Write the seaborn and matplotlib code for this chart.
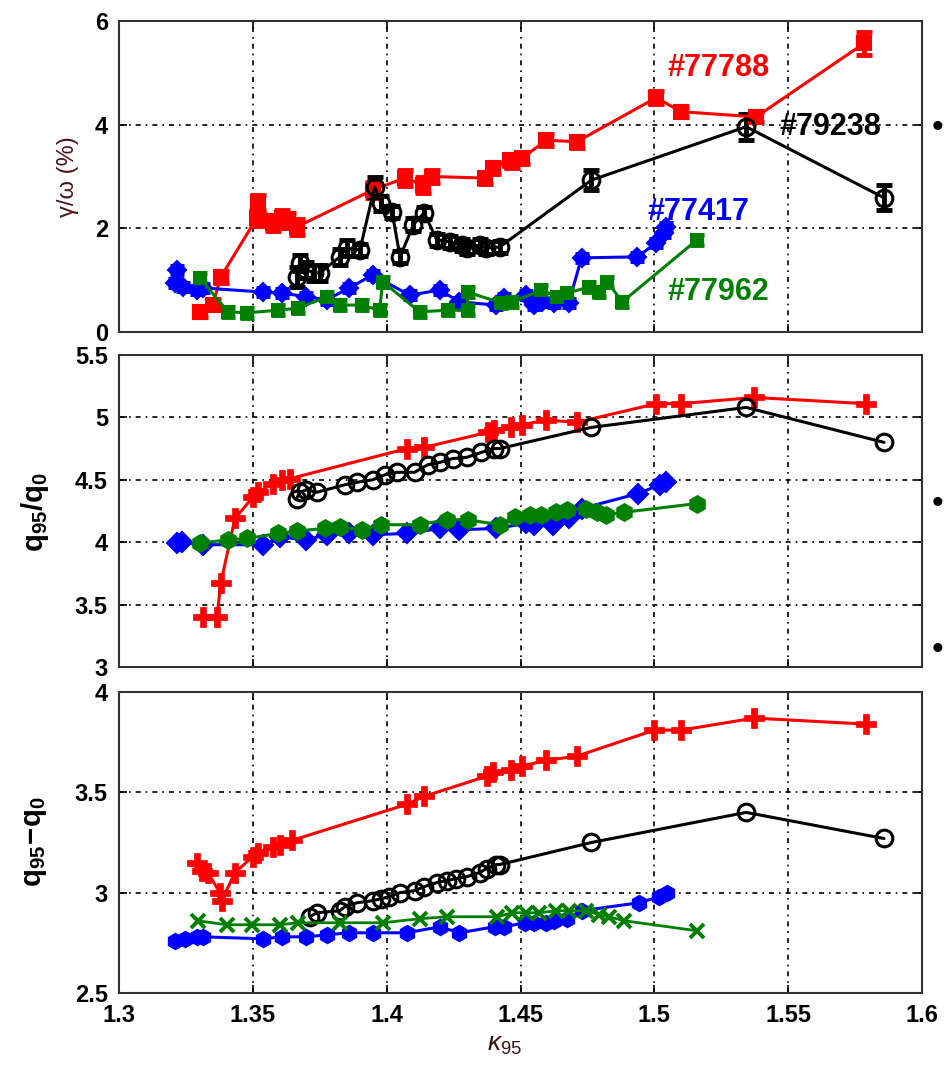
import numpy as np
import pandas as pd
import matplotlib
matplotlib.use("Agg")
import matplotlib.pyplot as plt
import seaborn as sns

# ---------------- data ----------------
shots = ["#77788", "#79238", "#77417", "#77962"]
colors = ["#ff0000", "#000000", "#0000ff", "#008000"]

# panel 1: gamma/omega (%)
red_k1 = [1.3302, 1.335, 1.338, 1.3515, 1.352, 1.3575, 1.361, 1.363, 1.3665, 1.3948, 1.4067, 1.4134,
          1.4168, 1.4366, 1.4396, 1.4459, 1.447, 1.4507, 1.4597, 1.471, 1.5007, 1.510, 1.538, 1.5784]
red_g1 = [0.39, 0.52, 1.06, 2.2, 2.5, 2.1, 2.2, 2.15, 2.03, 2.74, 2.97, 2.84,
          3.0, 2.97, 3.16, 3.32, 3.28, 3.36, 3.7, 3.67, 4.52, 4.25, 4.15, 5.57]
red_e1 = [0.1, 0.1, 0.12, 0.15, 0.15, 0.15, 0.15, 0.15, 0.15, 0.15, 0.15, 0.15,
          0.12, 0.12, 0.12, 0.12, 0.12, 0.12, 0.12, 0.12, 0.12, 0.1, 0.1, 0.22]

black_k1 = [1.3664, 1.3675, 1.370, 1.373, 1.375, 1.3825, 1.385, 1.390, 1.3955, 1.398, 1.402, 1.405,
            1.410, 1.414, 1.4187, 1.4235, 1.428, 1.430, 1.4347, 1.437, 1.4422, 1.4765, 1.5343, 1.5858]
black_g1 = [1.06, 1.33, 1.2, 1.14, 1.14, 1.45, 1.62, 1.58, 2.8, 2.48, 2.32, 1.45,
            2.07, 2.3, 1.78, 1.74, 1.68, 1.62, 1.68, 1.62, 1.64, 2.93, 3.96, 2.59]
black_e1 = [0.2, 0.15, 0.15, 0.15, 0.15, 0.15, 0.15, 0.12, 0.2, 0.15, 0.12, 0.12,
            0.12, 0.12, 0.12, 0.12, 0.12, 0.12, 0.12, 0.12, 0.12, 0.2, 0.25, 0.24]

blue_k1 = [1.3216, 1.321, 1.324, 1.329, 1.3315, 1.3537, 1.361, 1.370, 1.3776, 1.386, 1.3948, 1.4086,
           1.4198, 1.4272, 1.441, 1.444, 1.452, 1.4552, 1.4582, 1.4627, 1.468, 1.4728, 1.4937,
           1.5007, 1.5037, 1.5045]
blue_g1 = [1.2, 0.95, 0.87, 0.81, 0.85, 0.77, 0.75, 0.68, 0.62, 0.85, 1.1, 0.71,
           0.81, 0.58, 0.52, 0.66, 0.71, 0.52, 0.58, 0.56, 0.56, 1.43, 1.45,
           1.72, 1.91, 2.03]

green_k1 = [1.3302, 1.3407, 1.348, 1.3593, 1.3668, 1.3776, 1.3825, 1.3907, 1.3974, 1.3985, 1.4123,
            1.4228, 1.4302, 1.4302, 1.4429, 1.447, 1.4578, 1.4638, 1.4675, 1.4757, 1.4795, 1.4825,
            1.488, 1.516]
green_g1 = [1.04, 0.39, 0.37, 0.42, 0.46, 0.68, 0.52, 0.52, 0.42, 0.97, 0.39,
            0.42, 0.42, 0.77, 0.56, 0.58, 0.81, 0.68, 0.75, 0.87, 0.77, 0.97,
            0.58, 1.78]

# panel 2: q95/q0
red_k2 = [1.3313, 1.3366, 1.338, 1.3433, 1.35, 1.352, 1.3575, 1.361, 1.364, 1.4075, 1.414,
          1.4377, 1.440, 1.4466, 1.4504, 1.4597, 1.471, 1.5007, 1.510, 1.5373, 1.579]
red_q2 = [3.40, 3.40, 3.67, 4.19, 4.36, 4.40, 4.47, 4.50, 4.51, 4.75, 4.76,
          4.88, 4.90, 4.92, 4.94, 4.98, 4.96, 5.11, 5.11, 5.16, 5.11]

black_k2 = [1.3664, 1.3675, 1.370, 1.3739, 1.3843, 1.389, 1.3948, 1.3993, 1.4037, 1.4104, 1.4153,
            1.420, 1.4246, 1.4299, 1.4354, 1.440, 1.4422, 1.4765, 1.5343, 1.5858]
black_q2 = [4.35, 4.40, 4.42, 4.40, 4.46, 4.48, 4.50, 4.54, 4.56, 4.56, 4.62,
            4.64, 4.67, 4.68, 4.72, 4.75, 4.75, 4.92, 5.08, 4.80]

blue_k2 = [1.3216, 1.3235, 1.3313, 1.3537, 1.360, 1.370, 1.3776, 1.386, 1.3948, 1.4075, 1.4198,
           1.4272, 1.441, 1.452, 1.455, 1.462, 1.468, 1.4728, 1.494, 1.502, 1.5045]
blue_q2 = [3.99, 4.00, 3.98, 3.98, 4.04, 4.02, 4.06, 4.07, 4.06, 4.07, 4.11,
           4.10, 4.11, 4.15, 4.14, 4.14, 4.19, 4.27, 4.39, 4.46, 4.48]

green_k2 = [1.3302, 1.3407, 1.348, 1.3593, 1.3664, 1.3769, 1.3825, 1.3907, 1.398, 1.4123, 1.4224,
            1.4302, 1.4422, 1.4478, 1.4534, 1.4578, 1.4634, 1.4675, 1.4746, 1.4784, 1.482, 1.4888,
            1.516]
green_q2 = [3.99, 4.02, 4.03, 4.07, 4.09, 4.11, 4.12, 4.10, 4.14, 4.14, 4.18,
            4.18, 4.14, 4.20, 4.22, 4.22, 4.24, 4.26, 4.27, 4.24, 4.22, 4.24,
            4.31]

# panel 3: q95 - q0
red_k3 = [1.329, 1.331, 1.3332, 1.3377, 1.3384, 1.3433, 1.35, 1.352, 1.3575, 1.360, 1.3645, 1.4075,
          1.414, 1.4373, 1.4396, 1.4466, 1.4504, 1.4597, 1.471, 1.5, 1.510, 1.5373, 1.579]
red_d3 = [3.15, 3.11, 3.10, 3.00, 2.96, 3.10, 3.18, 3.20, 3.23, 3.24, 3.26, 3.44,
          3.48, 3.58, 3.60, 3.61, 3.63, 3.66, 3.68, 3.81, 3.81, 3.87, 3.84]

black_k3 = [1.3713, 1.3739, 1.3825, 1.3843, 1.389, 1.3948, 1.398, 1.401, 1.4049, 1.4104, 1.414,
            1.4187, 1.4224, 1.426, 1.43, 1.4347, 1.4373, 1.441, 1.4422, 1.4765, 1.5343, 1.5858]
black_d3 = [2.88, 2.90, 2.91, 2.93, 2.95, 2.96, 2.97, 2.98, 3.00, 3.01, 3.03,
            3.05, 3.06, 3.07, 3.08, 3.10, 3.12, 3.14, 3.14, 3.25, 3.40, 3.27]

blue_k3 = [1.321, 1.3246, 1.329, 1.3313, 1.3537, 1.361, 1.370, 1.3776, 1.386, 1.3948, 1.4075,
           1.4198, 1.4272, 1.4403, 1.444, 1.4515, 1.4552, 1.4597, 1.4627, 1.4675, 1.4728, 1.4944,
           1.5019, 1.5049]
blue_d3 = [2.76, 2.77, 2.78, 2.78, 2.77, 2.78, 2.78, 2.79, 2.80, 2.80, 2.80,
           2.83, 2.80, 2.83, 2.83, 2.85, 2.85, 2.85, 2.86, 2.87, 2.91, 2.95,
           2.98, 3.00]

green_k3 = [1.3295, 1.3403, 1.3496, 1.360, 1.3668, 1.3825, 1.3985, 1.4123, 1.4224, 1.4414, 1.447,
            1.452, 1.457, 1.4634, 1.468, 1.4746, 1.4795, 1.483, 1.4888, 1.516]
green_d3 = [2.86, 2.84, 2.84, 2.84, 2.85, 2.85, 2.85, 2.87, 2.88, 2.88, 2.90,
            2.90, 2.90, 2.91, 2.91, 2.91, 2.89, 2.88, 2.86, 2.81]

blue_e1 = 0.08
green_e1 = 0.1

x_ticks = [1.3, 1.35, 1.4, 1.45, 1.5, 1.55, 1.6]
x_ticklabels = ["1.3", "1.35", "1.4", "1.45", "1.5", "1.55", "1.6"]
y1_ticks = [0, 2, 4, 6]
y2_ticks = [3, 3.5, 4, 4.5, 5, 5.5]
y2_ticklabels = ["3", "3.5", "4", "4.5", "5", "5.5"]
y3_ticks = [2.5, 3, 3.5, 4]
y3_ticklabels = ["2.5", "3", "3.5", "4"]

# ---------------- style ----------------
sns.set_theme(style="white")
plt.rcParams["font.family"] = ["Liberation Sans", "DejaVu Sans"]
plt.rcParams["mathtext.fontset"] = "custom"
plt.rcParams["mathtext.rm"] = "Liberation Sans"
plt.rcParams["mathtext.it"] = "Liberation Sans:italic"
plt.rcParams["mathtext.bf"] = "Liberation Sans:bold"

fig = plt.figure(figsize=(9.47, 10.72), dpi=100)
L, W = 119 / 947, (922 - 119) / 947
H = 1072
ax1 = fig.add_axes([L, 1 - 332 / H, W, (332 - 21) / H])
ax2 = fig.add_axes([L, 1 - 667 / H, W, (667 - 355) / H])
ax3 = fig.add_axes([L, 1 - 993 / H, W, (993 - 692) / H])

grid_ls = (0, (3, 3, 1, 3))


def line(ax, k, v, color, marker, ms, mfc=None, mew=1.5, lw=2.2):
    df = pd.DataFrame({"k": k, "v": v})
    sns.lineplot(data=df, x="k", y="v", ax=ax, sort=False, estimator=None,
                 color=color, lw=lw, marker=marker, markersize=ms,
                 markerfacecolor=(mfc if mfc is not None else color),
                 markeredgecolor=color, markeredgewidth=mew, zorder=3)


# panel 1 with error bars
ax1.errorbar(red_k1, red_g1, yerr=red_e1, fmt="none", ecolor=colors[0], elinewidth=3.5, capsize=6, capthick=3.5, zorder=2)
ax1.errorbar(black_k1, black_g1, yerr=black_e1, fmt="none", ecolor=colors[1], elinewidth=3.5, capsize=6, capthick=3.5, zorder=2)
ax1.errorbar(blue_k1, blue_g1, yerr=blue_e1, fmt="none", ecolor=colors[2], elinewidth=3.5, capsize=5, capthick=3.5, zorder=2)
ax1.errorbar(green_k1, green_g1, yerr=green_e1, fmt="none", ecolor=colors[3], elinewidth=3.5, capsize=5, capthick=3.5, zorder=2)
line(ax1, red_k1, red_g1, colors[0], "s", 10)
line(ax1, black_k1, black_g1, colors[1], "o", 12, mfc="none", mew=2.2)
line(ax1, blue_k1, blue_g1, colors[2], "D", 9)
line(ax1, green_k1, green_g1, colors[3], "s", 9)

# panel 2
line(ax2, red_k2, red_q2, colors[0], "P", 14, mew=0.5)
line(ax2, black_k2, black_q2, colors[1], "o", 12, mfc="none", mew=2.2)
line(ax2, blue_k2, blue_q2, colors[2], "D", 10)
line(ax2, green_k2, green_q2, colors[3], "h", 12)

# panel 3
line(ax3, red_k3, red_d3, colors[0], "P", 14, mew=0.5)
line(ax3, black_k3, black_d3, colors[1], "o", 12, mfc="none", mew=2.2)
line(ax3, blue_k3, blue_d3, colors[2], "h", 11)
line(ax3, green_k3, green_d3, colors[3], "x", 10, mew=2.8, lw=2.0)

tick_font = dict(fontsize=17, fontweight="bold")
for ax, yt, ytl, ylim in [(ax1, y1_ticks, [str(v) for v in y1_ticks], (0, 6)),
                          (ax2, y2_ticks, y2_ticklabels, (3, 5.5)),
                          (ax3, y3_ticks, y3_ticklabels, (2.5, 4))]:
    ax.set_xlim(1.3, 1.6)
    ax.set_ylim(*ylim)
    ax.set_xticks(x_ticks)
    ax.set_yticks(yt)
    ax.set_yticklabels(ytl, **tick_font)
    if ax is ax3:
        ax.set_xticklabels(x_ticklabels, **tick_font)
    else:
        ax.set_xticklabels([])
    ax.grid(True, color="black", linestyle=grid_ls, linewidth=1.2)
    ax.set_axisbelow(True)
    ax.tick_params(direction="in", length=6, width=1.2, top=True, right=True,
                   left=True, bottom=True, pad=8, colors="black")
    for s in ax.spines.values():
        s.set_color("#333333")
        s.set_linewidth(1.5)
        s.set_visible(True)
    ax.set_xlabel("")
    ax.set_ylabel("")

# axis labels
fig.text(68 / 947, 1 - 177 / H, "γ/ω (%)", rotation=90, ha="center", va="center",
         fontsize=17, color="#4a1515")
fig.text(35 / 947, 1 - 512 / H, r"$\mathbf{q_{95}/q_0}$", rotation=90, ha="center", va="center",
         fontsize=21, color="black")
fig.text(35 / 947, 1 - 842 / H, r"$\mathbf{q_{95}\!-\!q_0}$", rotation=90, ha="center", va="center",
         fontsize=21, color="black")
fig.text(505 / 947, 1 - 1045 / H, r"$\kappa_{95}$", ha="center", va="center",
         fontsize=19, color="#3a1010")

# shot labels
lab = dict(fontsize=22, fontweight="bold", va="center", ha="left")
ax1.text(1.5049, 5.1, shots[0], color=colors[0], **lab)
ax1.text(1.5466, 3.95, shots[1], color=colors[1], **lab)
ax1.text(1.4974, 2.32, shots[2], color=colors[2], **lab)
ax1.text(1.5049, 0.77, shots[3], color=colors[3], **lab)

# slide bullets at the right edge
for yb in [128, 505, 650]:
    fig.text(937 / 947, 1 - yb / H, "•", ha="center", va="center", fontsize=24, color="black")

fig.savefig("out.png", dpi=100)
